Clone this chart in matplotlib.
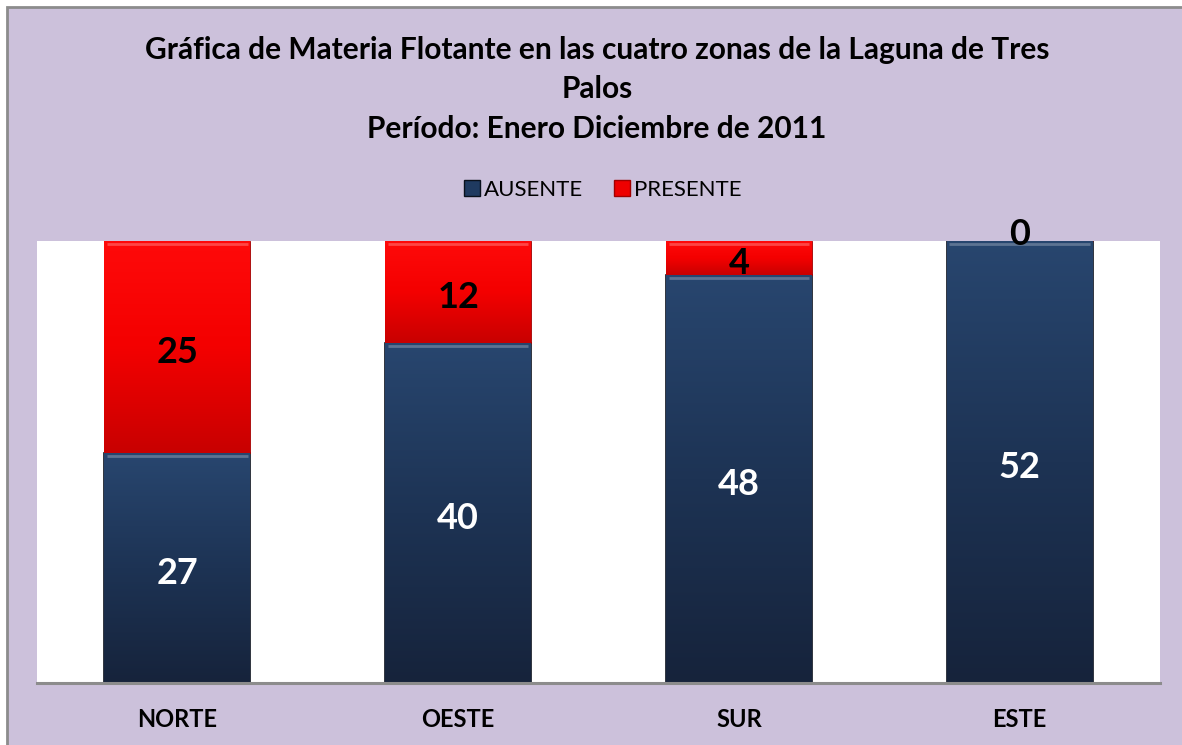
import numpy as np
import matplotlib
matplotlib.use('Agg')
import matplotlib.pyplot as plt
from matplotlib.patches import Rectangle, Patch
from matplotlib.colors import LinearSegmentedColormap

plt.rcParams['font.family'] = ['Lato', 'DejaVu Sans']

zonas = ['NORTE', 'OESTE', 'SUR', 'ESTE']
ausente = [27, 40, 48, 52]
presente = [25, 12, 4, 0]
titulo = 'Gráfica de Materia Flotante en las cuatro zonas de la Laguna de Tres\nPalos\nPeríodo: Enero Diciembre de 2011'

W, H = 1182, 745
fig = plt.figure(figsize=(W / 100, H / 100), dpi=100, facecolor='white')

# fondo lila con borde gris (solo arriba/izquierda visibles)
fig.patches.append(Rectangle((6.5 / W, -0.1), 1.2, 1.1 - 7.5 / H, transform=fig.transFigure,
                             facecolor='#ccc1db', edgecolor='#8c8c8c', linewidth=2, zorder=-10))

ax = fig.add_axes([37 / W, (H - 683) / H, 1123 / W, (683 - 241) / H])
ax.set_facecolor('white')

x = np.arange(len(zonas))
b1 = ax.bar(x, ausente, width=0.52, color='#1f3a60', edgecolor='#0a111c', linewidth=1.2, zorder=2)
b2 = ax.bar(x, presente, bottom=ausente, width=0.52, color='#ff0000', edgecolor='#a00000', linewidth=0.6, zorder=2)

blue_cm = LinearSegmentedColormap.from_list('azul', ['#16233b', '#1d3354', '#28466f'])
red_cm = LinearSegmentedColormap.from_list('rojo', ['#c80000', '#f40000', '#ff0a0a'])
grad = np.linspace(0, 1, 256).reshape(-1, 1)
for bars, cm in ((b1, blue_cm), (b2, red_cm)):
    for p in bars:
        x0, y0 = p.get_x(), p.get_y()
        w, h = p.get_width(), p.get_height()
        if h <= 0:
            continue
        im = ax.imshow(grad, cmap=cm, origin='lower', aspect='auto',
                       extent=[x0, x0 + w, y0, y0 + h], zorder=2.5)
        im.set_clip_path(p)
        # brillo arriba (bisel)
        ax.plot([x0 + 0.01, x0 + w - 0.01], [y0 + h - 0.35, y0 + h - 0.35],
                color='white', alpha=0.25, lw=2, zorder=3, solid_capstyle='butt')

for i in range(len(zonas)):
    ax.annotate(str(ausente[i]), (x[i], ausente[i] / 2), xytext=(0, -4),
                textcoords='offset points', ha='center', va='center',
                color='white', fontsize=26, fontweight='bold', zorder=5)
    off = 5 if presente[i] == 0 else -4
    ax.annotate(str(presente[i]), (x[i], ausente[i] + presente[i] / 2), xytext=(0, off),
                textcoords='offset points', ha='center', va='center',
                color='black', fontsize=26, fontweight='bold', zorder=5, annotation_clip=False)

ax.set_xlim(-0.5, len(zonas) - 0.5)
ax.set_ylim(0, 52)
ax.set_yticks([])
ax.set_xticks(x)
ax.set_xticklabels(zonas, fontsize=17, fontweight='bold')
ax.tick_params(axis='x', length=0, pad=18)
for s in ('top', 'left', 'right'):
    ax.spines[s].set_visible(False)
ax.spines['bottom'].set_color('#8c8c8c')
ax.spines['bottom'].set_linewidth(2.2)
ax.spines['bottom'].set_zorder(6)

fig.text(597 / W, 1 - 36 / H, titulo, ha='center', va='top', fontsize=21.5,
         fontweight='bold', linespacing=1.5)

handles = [Patch(facecolor='#1f3a60', edgecolor='#0a111c'), Patch(facecolor='#ee0000', edgecolor='#a00000')]
fig.legend(handles, ['AUSENTE', 'PRESENTE'], loc='center', bbox_to_anchor=(603 / W, 1 - 190 / H),
           ncol=2, frameon=False, fontsize=16, handlelength=0.7, handleheight=0.7,
           handletextpad=0.2, columnspacing=1.4)

fig.savefig('out.png', dpi=100, facecolor=fig.get_facecolor())
